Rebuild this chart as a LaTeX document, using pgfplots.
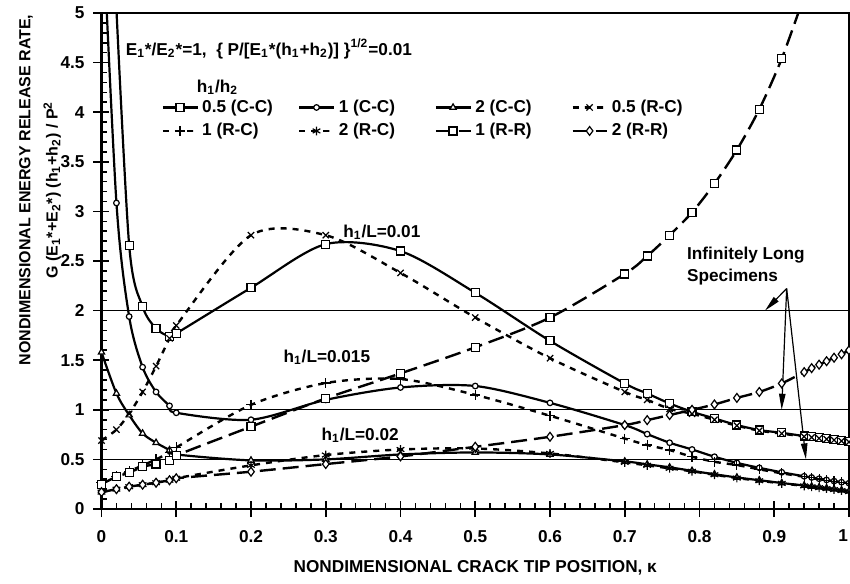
\documentclass[border=0pt]{standalone}
\usepackage{pgfplots}
\pgfplotsset{compat=1.18}
\usepackage{fontspec}
\setmainfont{Liberation Sans}
\usetikzlibrary{arrows.meta}

\newcommand{\lbl}{\fontsize{8.6}{10.3}\selectfont\bfseries}
\newcommand{\ent}[1]{\makebox[46pt][l]{#1}}

\pgfplotsset{
  base/.style={black, smooth, tension=0.5, mark options={solid, fill=white, line width=0.6pt}},
  cc/.style={base, line width=1.1pt},
  rc/.style={base, line width=1.2pt, dash pattern=on 3pt off 3pt},
  rr/.style={base, line width=1.2pt, dash pattern=on 8pt off 3.5pt},
}

\begin{document}
\begin{tikzpicture}[font=\lbl]
\useasboundingbox (-50.75pt,-37pt) rectangle (374.25pt,254.5pt);
\begin{axis}[
  scale only axis, width=373.75pt, height=248pt,
  xmin=0, xmax=1, ymin=0, ymax=5,
  xtick={0,0.1,0.2,0.3,0.4,0.5,0.6,0.7,0.8,0.9,1},
  xticklabels={0,0.1,0.2,0.3,0.4,0.5,0.6,0.7,0.8,0.9,\makebox[0pt][r]{1}\hspace*{1pt}},
  ytick={0,0.5,1,1.5,2,2.5,3,3.5,4,4.5,5},
  minor x tick num=4, minor y tick num=4,
  tick pos=left, tick align=inside,
  major tick length=4pt, minor tick length=3pt,
  every tick/.style={black, line width=0.8pt},
  extra x ticks={0,0.1,0.2,0.3,0.4,0.5,0.6,0.7,0.8,0.9,1},
  extra x tick labels={},
  extra x tick style={tick align=outside},
  extra y ticks={0,0.5,1,1.5,2,2.5,3,3.5,4,4.5,5},
  extra y tick labels={},
  extra y tick style={tick align=outside},
  axis line style={line width=1.2pt},
  /pgf/number format/assume math mode=true,
  tick label style={font=\lbl},
  yticklabel style={xshift=-5pt},
  xticklabel style={yshift=-7pt},
  xlabel={NONDIMENSIONAL CRACK TIP POSITION, κ},
  ylabel={NONDIMENSIONAL ENERGY RELEASE RATE,\\[4pt]G (E\textsubscript{1}*+E\textsubscript{2}*) (h\textsubscript{1}+h\textsubscript{2}) / P\textsuperscript{2}},
  xlabel style={at={(axis description cs:0.5,0)}, anchor=center, yshift=-29.5pt},
  ylabel style={at={(axis description cs:-0.0823,0.643)}, anchor=center, align=center,
    font=\fontsize{8}{9.6}\selectfont\bfseries},
  legend columns=4,
  legend cell align=left,
  legend style={at={(axis cs:0.08,4.17)}, anchor=north west, draw=none, fill=none,
    inner sep=0pt, font=\lbl},
]
% infinitely long specimen levels
\addplot[black, line width=0.5pt, forget plot] coordinates {(0,2) (1,2)};
\addplot[black, line width=0.5pt, forget plot] coordinates {(0,1) (1,1)};
\addplot[black, line width=0.5pt, forget plot] coordinates {(0,0.5) (1,0.5)};

% 0.5 (C-C)
\addplot[cc, mark=square*, mark size=2pt] coordinates {
(0.0183,5.3)(0.037,2.66)(0.055,2.04)(0.073,1.82)(0.091,1.74)(0.1,1.77)(0.2,2.23)(0.3,2.67)(0.4,2.6)(0.5,2.18)(0.6,1.695)(0.7,1.266)(0.73,1.165)(0.76,1.064)(0.79,0.98)(0.82,0.913)(0.85,0.846)(0.88,0.796)(0.91,0.768)(0.94,0.735)(0.95,0.727)(0.96,0.718)(0.97,0.709)(0.98,0.70)(0.99,0.69)(1.0,0.68)};
\addlegendentry{\ent{0.5 (C-C)}}
% 1 (C-C)
\addplot[cc, mark=*, mark size=1.4pt] coordinates {
(0.001,6.0)(0.02,3.085)(0.037,1.94)(0.055,1.43)(0.073,1.18)(0.091,1.04)(0.1,0.97)(0.2,0.90)(0.3,1.10)(0.4,1.225)(0.5,1.24)(0.6,1.07)(0.7,0.846)(0.73,0.755)(0.76,0.668)(0.79,0.60)(0.82,0.527)(0.85,0.465)(0.88,0.415)(0.91,0.37)(0.94,0.33)(0.95,0.318)(0.96,0.305)(0.97,0.293)(0.98,0.281)(0.99,0.27)(1.0,0.26)};
\addlegendentry{\ent{1 (C-C)}}
% 2 (C-C)
\addplot[cc, mark=triangle*, mark size=1.8pt] coordinates {
(0,1.58)(0.02,1.165)(0.037,0.947)(0.055,0.762)(0.073,0.668)(0.091,0.594)(0.1,0.55)(0.2,0.49)(0.3,0.50)(0.4,0.55)(0.5,0.57)(0.6,0.55)(0.7,0.48)(0.73,0.45)(0.76,0.42)(0.79,0.385)(0.82,0.35)(0.85,0.318)(0.88,0.29)(0.91,0.262)(0.94,0.237)(0.95,0.228)(0.96,0.219)(0.97,0.21)(0.98,0.2)(0.99,0.19)(1.0,0.18)};
\addlegendentry{\ent{2 (C-C)}}
% 0.5 (R-C)
\addplot[rc, mark=x, mark size=2.2pt] coordinates {
(0,0.69)(0.02,0.80)(0.037,0.96)(0.055,1.18)(0.073,1.44)(0.091,1.72)(0.1,1.85)(0.2,2.76)(0.3,2.76)(0.4,2.38)(0.5,1.93)(0.6,1.52)(0.7,1.18)(0.73,1.10)(0.76,1.01)(0.79,0.96)(0.82,0.90)(0.85,0.84)(0.88,0.79)(0.91,0.76)(0.94,0.73)(0.95,0.722)(0.96,0.713)(0.97,0.704)(0.98,0.695)(0.99,0.685)(1.0,0.675)};
\addlegendentry{\ent{0.5 (R-C)}}
% 1 (R-C)
\addplot[rc, mark=+, mark size=2.5pt] coordinates {
(0,0.27)(0.02,0.33)(0.037,0.38)(0.055,0.44)(0.073,0.50)(0.091,0.57)(0.1,0.62)(0.2,1.05)(0.3,1.27)(0.4,1.31)(0.5,1.15)(0.6,0.94)(0.7,0.71)(0.73,0.645)(0.76,0.594)(0.79,0.527)(0.82,0.476)(0.85,0.443)(0.88,0.40)(0.91,0.36)(0.94,0.325)(0.95,0.315)(0.96,0.302)(0.97,0.29)(0.98,0.28)(0.99,0.27)(1.0,0.26)};
\addlegendentry{\ent{1 (R-C)}}
% 2 (R-C)
\addplot[rc, mark=asterisk, mark size=2.2pt] coordinates {
(0,0.17)(0.02,0.2)(0.037,0.225)(0.055,0.245)(0.073,0.265)(0.091,0.29)(0.1,0.31)(0.2,0.44)(0.3,0.544)(0.4,0.60)(0.5,0.61)(0.6,0.56)(0.7,0.47)(0.73,0.44)(0.76,0.41)(0.79,0.38)(0.82,0.345)(0.85,0.312)(0.88,0.285)(0.91,0.258)(0.94,0.233)(0.95,0.224)(0.96,0.215)(0.97,0.206)(0.98,0.196)(0.99,0.186)(1.0,0.176)};
\addlegendentry{\ent{2 (R-C)}}
% 1 (R-R)
\addplot[rr, mark=square*, mark size=2pt] coordinates {
(0,0.25)(0.02,0.325)(0.037,0.366)(0.055,0.426)(0.073,0.453)(0.091,0.49)(0.1,0.54)(0.2,0.83)(0.3,1.115)(0.4,1.367)(0.5,1.63)(0.6,1.93)(0.7,2.37)(0.73,2.55)(0.76,2.76)(0.79,2.99)(0.82,3.28)(0.85,3.62)(0.88,4.03)(0.91,4.54)(0.94,5.17)};
\addlegendentry{\ent{1 (R-R)}}
% 2 (R-R)
\addplot[rr, mark=diamond*, mark size=2.2pt] coordinates {
(0,0.17)(0.02,0.2)(0.037,0.225)(0.055,0.245)(0.073,0.265)(0.091,0.29)(0.1,0.31)(0.2,0.376)(0.3,0.453)(0.4,0.53)(0.5,0.627)(0.6,0.728)(0.7,0.846)(0.73,0.896)(0.76,0.947)(0.79,1.0)(0.82,1.054)(0.85,1.12)(0.88,1.18)(0.91,1.266)(0.94,1.38)(0.95,1.42)(0.96,1.455)(0.97,1.49)(0.98,1.525)(0.99,1.56)(1.0,1.6)};
\addlegendentry{\ent{2 (R-R)}}

\node[anchor=west, inner sep=0pt] at (axis cs:0.032,4.64)
  {E\textsubscript{1}*/E\textsubscript{2}*=1,\ \ \{ P/[E\textsubscript{1}*(h\textsubscript{1}+h\textsubscript{2})] \}\textsuperscript{1/2}=0.01};
\node[anchor=west, inner sep=0pt] at (axis cs:0.127,4.25) {h\textsubscript{1}/h\textsubscript{2}};
\node[anchor=west, inner sep=0pt] at (axis cs:0.323,2.79) {h\textsubscript{1}/L=0.01};
\node[anchor=west, inner sep=0pt] at (axis cs:0.243,1.534) {h\textsubscript{1}/L=0.015};
\node[anchor=west, inner sep=0pt] at (axis cs:0.294,0.745) {h\textsubscript{1}/L=0.02};
\node[anchor=west, inner sep=0pt] at (axis cs:0.783,2.558) {Infinitely Long};
\node[anchor=west, inner sep=0pt] at (axis cs:0.783,2.34) {Specimens};
\draw[line width=0.6pt, -{Triangle[length=8pt,width=3.2pt]}] (axis cs:0.9166,2.222) -- (axis cs:0.8876,2.0);
\draw[line width=0.6pt, -{Triangle[length=8pt,width=3.2pt]}] (axis cs:0.9166,2.222) -- (axis cs:0.9099,1.0);
\draw[line width=0.6pt, -{Triangle[length=8pt,width=3.2pt]}] (axis cs:0.9166,2.222) -- (axis cs:0.9424,0.5);
\end{axis}
\end{tikzpicture}
\end{document}
